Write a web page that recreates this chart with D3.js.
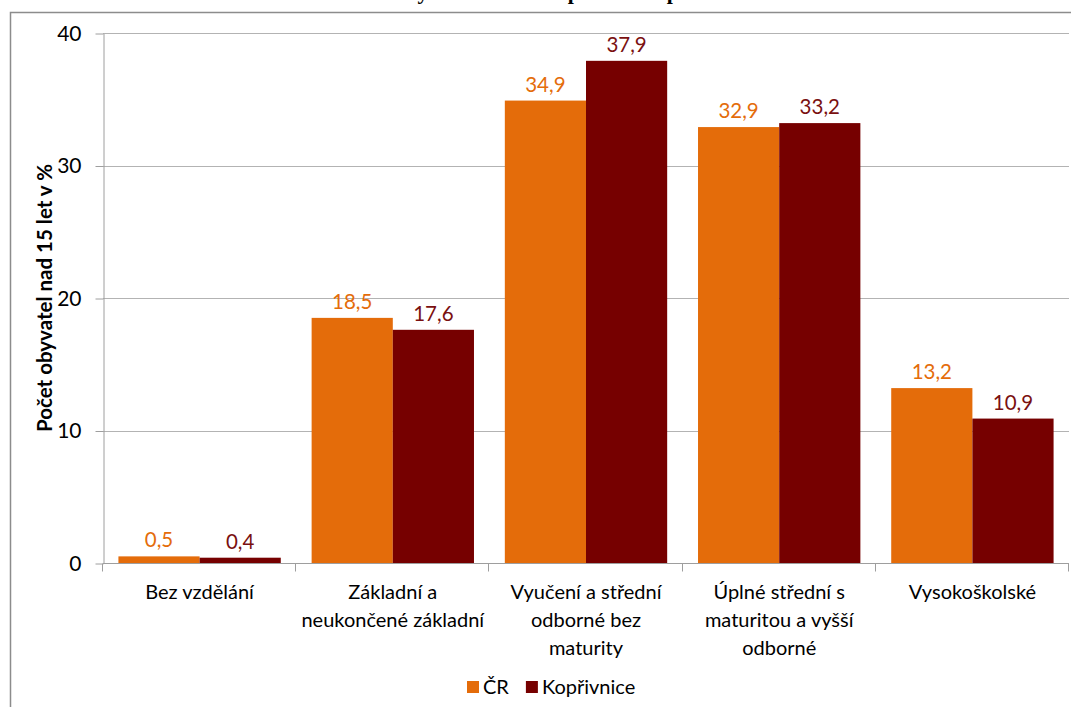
<!DOCTYPE html>
<html>
<head>
<meta charset="utf-8">
<script src="https://cdn.jsdelivr.net/npm/d3@7"></script>
<style>
  body { margin: 0; background: #fff; }
  svg { display: block; font-family: Lato, "Open Sans", sans-serif; }
</style>
</head>
<body>
<div id="chart"></div>
<script>
// chart data
const categories = [
  ["Bez vzdělání"],
  ["Základní a", "neukončené základní"],
  ["Vyučení a střední", "odborné bez", "maturity"],
  ["Úplné střední s", "maturitou a vyšší", "odborné"],
  ["Vysokoškolské"]
];
const seriesNames = ["ČR", "Kopřivnice"];
const valuesCR = [0.5, 18.5, 34.9, 32.9, 13.2];
const valuesKoprivnice = [0.4, 17.6, 37.9, 33.2, 10.9];
const yTicks = [0, 10, 20, 30, 40];
const colors = ["#E46C0A", "#760000"];
const labelColors = ["#E46C0A", "#7A1010"];

const W = 1071, H = 707;
const margin = { left: 103, right: 2, top: 33, bottom: 144 };

const svg = d3.select("#chart").append("svg")
  .attr("width", W).attr("height", H);

// outer chart frame (runs off the right and bottom of the picture)
svg.append("rect")
  .attr("x", 10.5).attr("y", 12.5)
  .attr("width", 1200).attr("height", 800)
  .attr("fill", "none").attr("stroke", "#8c8c8c").attr("stroke-width", 1.5);

// title, cut off by the top edge as in the original screenshot
const title = svg.append("text")
  .attr("y", -1)
  .style("font-family", "'Liberation Serif', serif")
  .style("font-weight", "bold").style("font-size", "22px")
  .text("Vzdělanostní struktura obyvatel města Kopřivnice v porovnání s ČR");
// line the "y" of "obyvatel" up with the descender seen in the original
const node = title.node();
const yIdx = title.text().indexOf("oby") + 2;
const yPos = node.getStartPositionOfChar(yIdx).x;
const yEnd = node.getEndPositionOfChar(yIdx).x;
title.attr("x", 423 - (yPos + yEnd) / 2);

const x0 = d3.scaleBand()
  .domain(d3.range(categories.length))
  .range([margin.left, W - margin.right]);
const x1 = d3.scaleBand()
  .domain([0, 1])
  .range([0, x0.bandwidth()])
  .paddingOuter(0.19);
const y = d3.scaleLinear()
  .domain([0, 40])
  .range([H - margin.bottom, margin.top]);

// gridlines
svg.append("g").selectAll("line").data(yTicks.filter(d => d > 0)).join("line")
  .attr("x1", margin.left).attr("x2", W - margin.right)
  .attr("y1", d => Math.round(y(d)) + 0.5).attr("y2", d => Math.round(y(d)) + 0.5)
  .attr("stroke", "#b3b3b3").attr("stroke-width", 1);

// y axis
const yAxis = svg.append("g")
  .attr("transform", `translate(${margin.left + 0.5},0.5)`)
  .call(d3.axisLeft(y).tickValues(yTicks).tickSize(8).tickPadding(14).tickSizeOuter(0));
yAxis.select(".domain").attr("stroke", "#9e9e9e");
yAxis.selectAll(".tick line").attr("stroke", "#9e9e9e");
yAxis.selectAll(".tick text")
  .style("font-size", "21px").style("font-family", "Lato, sans-serif").attr("fill", "#000");

// y axis title
svg.append("text")
  .attr("transform", `translate(52,${(y(0) + y(40)) / 2}) rotate(-90)`)
  .attr("text-anchor", "middle")
  .style("font-weight", "bold").style("font-size", "20.5px")
  .text("Počet obyvatel nad 15 let v %");

// bars
const series = [valuesCR, valuesKoprivnice];
series.forEach((vals, s) => {
  const g = svg.append("g");
  g.selectAll("rect").data(vals).join("rect")
    .attr("x", (d, i) => x0(i) + x1(s))
    .attr("width", x1.bandwidth())
    .attr("y", d => y(d))
    .attr("height", d => y(0) - y(d))
    .attr("fill", colors[s]);
  g.selectAll("text").data(vals).join("text")
    .attr("x", (d, i) => x0(i) + x1(s) + x1.bandwidth() / 2)
    .attr("y", d => y(d) - 9)
    .attr("text-anchor", "middle")
    .attr("fill", labelColors[s])
    .style("font-size", "20.5px")
    .text(d => d3.format(".1f")(d).replace(".", ","));
});

// x axis
const xAxisY = Math.round(y(0)) + 0.5;
const xg = svg.append("g");
xg.append("line")
  .attr("x1", margin.left).attr("x2", W - margin.right)
  .attr("y1", xAxisY).attr("y2", xAxisY)
  .attr("stroke", "#9e9e9e");
xg.selectAll("line.tk").data(d3.range(categories.length + 1)).join("line")
  .attr("class", "tk")
  .attr("x1", i => Math.round(margin.left + i * x0.bandwidth()) - 0.5)
  .attr("x2", i => Math.round(margin.left + i * x0.bandwidth()) - 0.5)
  .attr("y1", xAxisY).attr("y2", xAxisY + 8)
  .attr("stroke", "#9e9e9e");
categories.forEach((lines, i) => {
  const t = xg.append("text")
    .attr("x", x0(i) + x0.bandwidth() / 2)
    .attr("y", 599)
    .attr("text-anchor", "middle")
    .style("font-size", "20px");
  lines.forEach((ln, k) => {
    t.append("tspan").attr("x", x0(i) + x0.bandwidth() / 2)
      .attr("dy", k === 0 ? 0 : 28).text(ln);
  });
});

// legend
const legend = svg.append("g").attr("transform", "translate(467,681)");
let lx = 0;
seriesNames.forEach((name, s) => {
  legend.append("rect")
    .attr("x", lx).attr("y", 0)
    .attr("width", 12).attr("height", 12)
    .attr("fill", colors[s]);
  const t = legend.append("text")
    .attr("x", lx + 16).attr("y", 13)
    .style("font-size", "20px")
    .text(name);
  lx += 16 + t.node().getComputedTextLength() + 17;
});
</script>
</body>
</html>
